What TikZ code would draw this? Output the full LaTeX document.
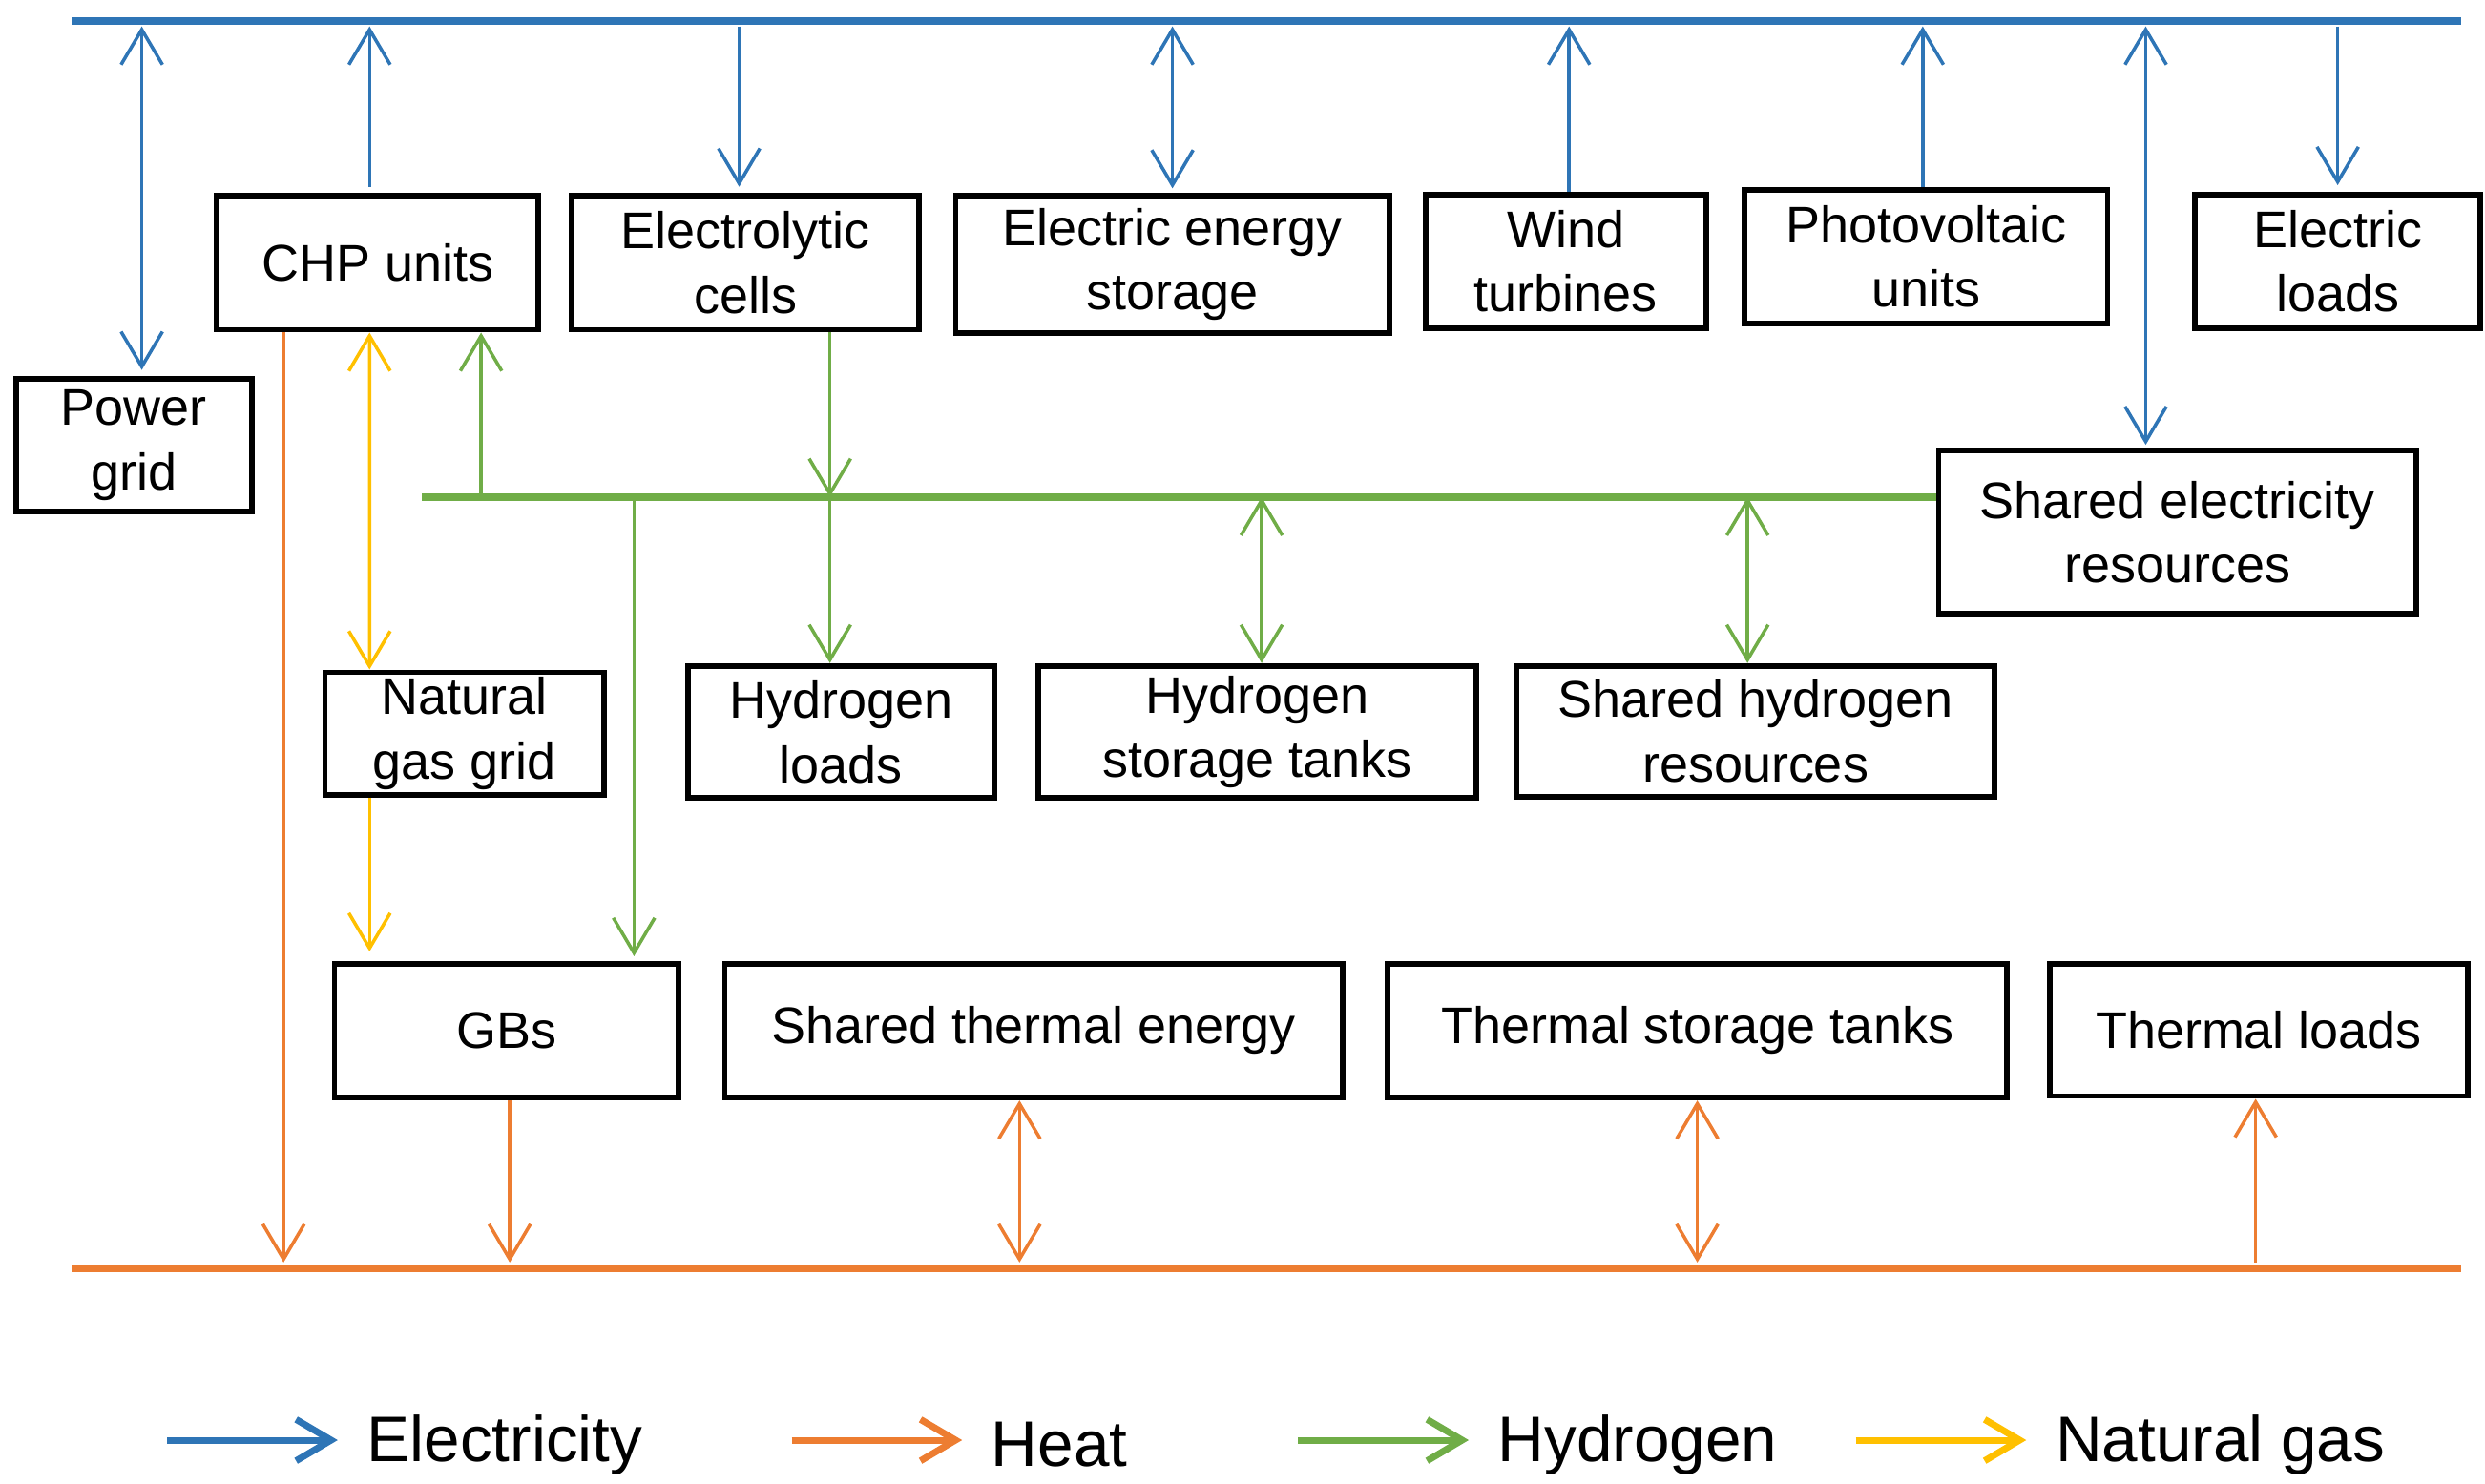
\documentclass[tikz,border=0pt]{standalone}
\usepackage{fontspec}
\setmainfont{Liberation Sans}
\usetikzlibrary{arrows.meta}

\definecolor{elec}{RGB}{46,117,182}
\definecolor{heat}{RGB}{237,125,49}
\definecolor{hydro}{RGB}{112,173,71}
\definecolor{gas}{RGB}{255,192,0}

\tikzset{
  box/.style={draw,line width=1pt,align=center,inner sep=0pt,
    font=\fontsize{9.2}{11.5}\selectfont},
  bus/.style={line width=1.3pt},
  flow/.style={line width=0.6pt,-{Straight Barb[length=2.2mm,width=2.6mm]}},
  both/.style={flow,{Straight Barb[length=2.2mm,width=2.6mm]}-{Straight Barb[length=2.2mm,width=2.6mm]}},
  legtext/.style={anchor=west,font=\fontsize{11.5}{13}\selectfont}
}

\begin{document}
\begin{tikzpicture}
\useasboundingbox (0,0) rectangle (15.6,9.31);

% buses
\coordinate (ebus) at (0,9.18);
\coordinate (hbus) at (0,6.19);
\coordinate (tbus) at (0,1.35);
\draw[bus,elec] (0.45,9.18) -- (15.45,9.18);
\draw[bus,heat] (0.45,1.35) -- (15.45,1.35);

% boxes
\node[box,minimum width=1.48cm,minimum height=0.83cm] (pg) at (0.84,6.515) {Power\\grid};
\node[box,minimum width=2.02cm,minimum height=0.84cm] (chp) at (2.37,7.66) {CHP units};
\node[box,minimum width=2.18cm,minimum height=0.84cm] (ec) at (4.68,7.66) {Electrolytic\\cells};
\node[box,minimum width=2.72cm,minimum height=0.86cm] (ees) at (7.36,7.65) {Electric energy\\storage};
\node[box,minimum width=1.76cm,minimum height=0.84cm] (wt) at (9.83,7.67) {Wind\\turbines};
\node[box,minimum width=2.28cm,minimum height=0.84cm] (pv) at (12.09,7.70) {Photovoltaic\\units};
\node[box,minimum width=1.79cm,minimum height=0.84cm] (el) at (14.675,7.67) {Electric\\loads};
\node[box,minimum width=3.00cm,minimum height=1.02cm] (ser) at (13.67,5.97) {Shared electricity\\resources};
\node[box,minimum width=1.75cm,minimum height=0.77cm] (ng) at (2.915,4.705) {Natural\\gas grid};
\node[box,minimum width=1.92cm,minimum height=0.83cm] (hl) at (5.28,4.715) {Hydrogen\\loads};
\node[box,minimum width=2.75cm,minimum height=0.83cm] (hst) at (7.895,4.715) {Hydrogen\\storage tanks};
\node[box,minimum width=3.00cm,minimum height=0.82cm] (shr) at (11.02,4.72) {Shared hydrogen\\resources};
\node[box,minimum width=2.16cm,minimum height=0.84cm] (gb) at (3.18,2.84) {GBs};
\node[box,minimum width=3.88cm,minimum height=0.84cm] (ste) at (6.49,2.84) {Shared thermal energy};
\node[box,minimum width=3.89cm,minimum height=0.84cm] (tst) at (10.655,2.84) {Thermal storage tanks};
\node[box,minimum width=2.62cm,minimum height=0.83cm] (tl) at (14.18,2.845) {Thermal loads};

\draw[bus,hydro] (2.65,6.19) -- (ser.west |- hbus);

% electricity
\draw[both,elec,shorten <=1pt] ([xshift=0.05cm]pg.north |- ebus) -- ([xshift=0.05cm,yshift=0.04cm]pg.north);
\draw[flow,elec,shorten >=1pt] ([xshift=-0.05cm,yshift=0.04cm]chp.north) -- ([xshift=-0.05cm]chp.north |- ebus);
\draw[flow,elec,shorten <=1pt] ([xshift=-0.04cm]ec.north |- ebus) -- ([xshift=-0.04cm,yshift=0.04cm]ec.north);
\draw[both,elec,shorten <=1pt] (ees.north |- ebus) -- ([yshift=0.03cm]ees.north);
\draw[flow,elec,shorten >=1pt] ([xshift=0.02cm]wt.north) -- ([xshift=0.02cm]wt.north |- ebus);
\draw[flow,elec,shorten >=1pt] ([xshift=-0.02cm]pv.north) -- ([xshift=-0.02cm]pv.north |- ebus);
\draw[flow,elec,shorten <=1pt] (el.north |- ebus) -- ([yshift=0.04cm]el.north);
\draw[both,elec,shorten <=1pt] ([xshift=-0.20cm]ser.north |- ebus) -- ([xshift=-0.20cm,yshift=0.02cm]ser.north);

% hydrogen
\draw[flow,hydro] ([xshift=0.65cm]chp.south |- hbus) -- ([xshift=0.65cm]chp.south);
\draw[flow,hydro] ([xshift=0.53cm]ec.south) -- ([xshift=0.53cm]ec.south |- hbus);
\draw[flow,hydro] ([xshift=-0.07cm]hl.north |- hbus) -- ([xshift=-0.07cm]hl.north);
\draw[both,hydro] ([xshift=0.025cm]hst.north |- hbus) -- ([xshift=0.025cm]hst.north);
\draw[both,hydro] ([xshift=-0.05cm]shr.north |- hbus) -- ([xshift=-0.05cm]shr.north);
\draw[flow,hydro] ([xshift=0.80cm]gb.north |- hbus) -- ([xshift=0.80cm,yshift=0.03cm]gb.north);

% natural gas
\draw[both,gas] ([xshift=-0.05cm]chp.south) -- ([xshift=-0.595cm]ng.north);
\draw[flow,gas] ([xshift=-0.595cm]ng.south) -- ([xshift=-0.86cm,yshift=0.06cm]gb.north);

% heat
\draw[flow,heat,shorten >=1pt] ([xshift=-0.59cm]chp.south) -- ([xshift=-0.59cm]chp.south |- tbus);
\draw[flow,heat,shorten >=1pt] ([xshift=0.02cm]gb.south) -- ([xshift=0.02cm]gb.south |- tbus);
\draw[both,heat,shorten >=1pt] ([xshift=-0.09cm]ste.south) -- ([xshift=-0.09cm]ste.south |- tbus);
\draw[both,heat,shorten >=1pt] (tst.south) -- (tst.south |- tbus);
\draw[flow,heat,shorten <=1pt] ([xshift=-0.02cm]tl.south |- tbus) -- ([xshift=-0.02cm]tl.south);

% legend
\foreach \c/\x/\txt [count=\i] in {elec/1.05/Electricity, heat/4.97/Heat, hydro/8.15/Hydrogen, gas/11.65/Natural gas} {
  \coordinate (la\i) at (\x,0.27);
  \coordinate (lb\i) at (\x+1.07,0.27);
  \draw[flow,\c,line width=1.2pt] (la\i) -- (lb\i);
  \node[legtext] (lt\i) at ([xshift=0.06cm,yshift=-0.03cm]lb\i) {\txt};
}
\end{tikzpicture}
\end{document}
